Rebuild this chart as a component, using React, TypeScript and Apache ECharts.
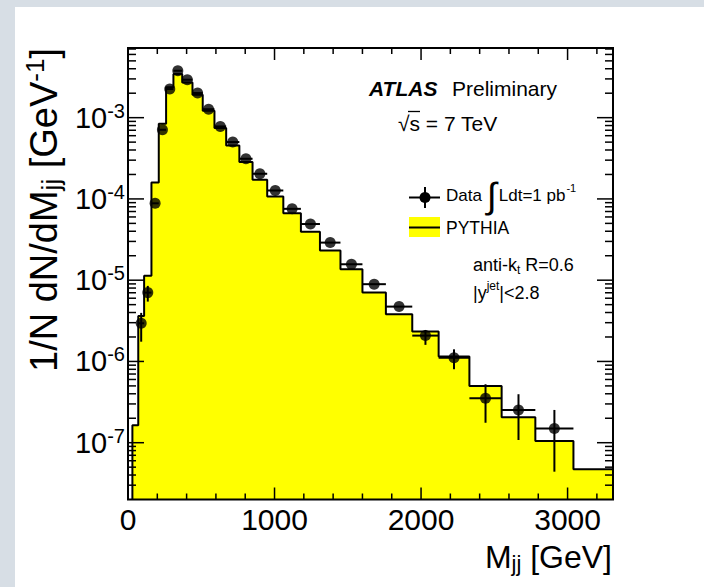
import React, { useEffect, useRef } from "react";
import * as echarts from "echarts";

// ---- Data ----
const binEdges = [30, 70, 110, 160, 210, 260, 310, 370, 440, 510, 590, 670, 760, 850, 950, 1060, 1180, 1310, 1450, 1600, 1760, 1940, 2120, 2330, 2550, 2780, 3040, 3310];
const pythiaValues = [1.64e-7, 3.63e-6, 1.13e-5, 1.59e-4, 8.41e-4, 2.36e-3, 3.44e-3, 2.71e-3, 1.91e-3, 1.22e-3, 7.45e-4, 4.55e-4, 2.84e-4, 1.72e-4, 1.07e-4, 6.68e-5, 3.94e-5, 2.32e-5, 1.36e-5, 7.03e-6, 3.82e-6, 2.33e-6, 1.15e-6, 4.99e-7, 2.06e-7, 1.05e-7, 4.7e-8];
const dataValues = [null, 2.95e-6, 7.03e-6, 8.83e-5, 7.1e-4, 2.25e-3, 3.78e-3, 2.93e-3, 2.01e-3, 1.27e-3, 7.8e-4, 5.01e-4, 3.12e-4, 2.04e-4, 1.27e-4, 7.55e-5, 4.91e-5, 2.9e-5, 1.57e-5, 8.93e-6, 4.73e-6, 2.08e-6, 1.11e-6, 3.52e-7, 2.53e-7, 1.5e-7, null];
const dataErrLow = [null, 1.75e-6, 5.45e-6, null, null, null, null, null, null, null, null, null, null, null, null, null, null, null, null, null, null, 1.6e-6, 8.02e-7, 1.76e-7, 1.08e-7, 4.4e-8, null];
const dataErrHigh = [null, 3.96e-6, 8.51e-6, null, null, null, null, null, null, null, null, null, null, null, null, null, null, null, null, null, null, 2.44e-6, 1.41e-6, 5.24e-7, 3.95e-7, 2.53e-7, null];

const xTickLabels = [0, 1000, 2000, 3000];
const xMajorTicks = [1000, 2000, 3000];
const xMinorTicks = [200, 400, 600, 800, 1200, 1400, 1600, 1800, 2200, 2400, 2600, 2800, 3200];
const yMajorTicks = [1e-7, 1e-6, 1e-5, 1e-4, 1e-3];
const yMinorTicks = [
  3e-8, 4e-8, 5e-8, 6e-8, 7e-8, 8e-8, 9e-8,
  2e-7, 3e-7, 4e-7, 5e-7, 6e-7, 7e-7, 8e-7, 9e-7,
  2e-6, 3e-6, 4e-6, 5e-6, 6e-6, 7e-6, 8e-6, 9e-6,
  2e-5, 3e-5, 4e-5, 5e-5, 6e-5, 7e-5, 8e-5, 9e-5,
  2e-4, 3e-4, 4e-4, 5e-4, 6e-4, 7e-4, 8e-4, 9e-4,
  2e-3, 3e-3, 4e-3, 5e-3, 6e-3, 7e-3,
];

const X_MIN = 0;
const X_MAX = 3310;
const Y_MIN = 2e-8;
const Y_MAX = 7.2e-3;

const FF = '"Liberation Sans", Arial, Helvetica, sans-serif';

export default function App() {
  const ref = useRef<HTMLDivElement>(null);

  useEffect(() => {
    if (!ref.current) return;
    const chart = echarts.init(ref.current, undefined, { renderer: "svg" });

    const histLine: number[][] = [[binEdges[0], Y_MIN]];
    pythiaValues.forEach((v, i) => {
      histLine.push([binEdges[i], v]);
      histLine.push([binEdges[i + 1], v]);
    });

    const errData: number[][] = [];
    const pointData: number[][] = [];
    dataValues.forEach((v, i) => {
      if (v == null) return;
      const c = (binEdges[i] + binEdges[i + 1]) / 2;
      errData.push([c, v, binEdges[i], binEdges[i + 1], dataErrLow[i] ?? 0, dataErrHigh[i] ?? 0]);
      pointData.push([c, v]);
    });

    const option: any = {
      animation: false,
      backgroundColor: "#ffffff",
      grid: { left: 128, right: 91, top: 48, bottom: 87.5, show: false },
      xAxis: {
        type: "value",
        min: X_MIN,
        max: X_MAX,
        interval: 1000,
        axisLine: { show: false },
        axisTick: { show: false },
        splitLine: { show: false },
        axisLabel: {
          formatter: (v: number) => (xTickLabels.indexOf(v) >= 0 ? String(v) : ""),
          fontSize: 30,
          color: "#000",
          fontFamily: FF,
          margin: 5,
        },
      },
      yAxis: {
        type: "log",
        logBase: 10,
        min: Y_MIN,
        max: Y_MAX,
        axisLine: { show: false },
        axisTick: { show: false },
        splitLine: { show: false },
        axisLabel: {
          margin: 3,
          formatter: (v: number) => {
            const l = Math.log10(v);
            const r = Math.round(l);
            if (Math.abs(l - r) > 1e-6) return "";
            return `{b|10}{e|${r}}`;
          },
          rich: {
            b: { fontSize: 29, fontFamily: FF, color: "#000" },
            e: { fontSize: 20, fontFamily: FF, color: "#000", padding: [0, 0, 14, 0] },
          },
        },
      },
      graphic: [
        { type: "rect", shape: { x: 0, y: 0, width: 704, height: 7 }, style: { fill: "#d7dee5" } },
        { type: "rect", shape: { x: 0, y: 0, width: 15, height: 587 }, style: { fill: "#d7dee5" } },
        {
          type: "text",
          x: 44,
          y: 48,
          rotation: Math.PI / 2,
          style: {
            text: "{t|1/N dN/dM}{s|jj}{t| [GeV}{p|-1}{t|]}",
            align: "right",
            verticalAlign: "middle",
            rich: {
              t: { fontSize: 38, fontFamily: FF, fill: "#000" },
              s: { fontSize: 26, fontFamily: FF, fill: "#000", padding: [14, 0, 0, 0] },
              p: { fontSize: 26, fontFamily: FF, fill: "#000", padding: [0, 0, 18, 0] },
            },
          },
        },
        {
          type: "text",
          x: 612,
          y: 557,
          style: {
            text: "{t|M}{s|jj}{t| [GeV]}",
            align: "right",
            verticalAlign: "middle",
            rich: {
              t: { fontSize: 32, fontFamily: FF, fill: "#000" },
              s: { fontSize: 22, fontFamily: FF, fill: "#000", padding: [12, 0, 0, 0] },
            },
          },
        },
        {
          type: "text",
          x: 369,
          y: 88,
          style: { text: "ATLAS", fontSize: 21, fontFamily: FF, fontWeight: "bold", fontStyle: "italic", fill: "#000", verticalAlign: "middle" },
        },
        {
          type: "text",
          x: 452,
          y: 88,
          style: { text: "Preliminary", fontSize: 21, fontFamily: FF, fill: "#000", verticalAlign: "middle" },
        },
        {
          type: "text",
          x: 398,
          y: 123,
          style: { text: "\u221As = 7 TeV", fontSize: 21, fontFamily: FF, fill: "#000", verticalAlign: "middle" },
        },
        { type: "line", shape: { x1: 408, y1: 111.5, x2: 420, y2: 111.5 }, style: { stroke: "#000", lineWidth: 1.3 } },
        // legend: Data
        { type: "line", shape: { x1: 409, y1: 197.5, x2: 440, y2: 197.5 }, style: { stroke: "#000", lineWidth: 2 } },
        { type: "line", shape: { x1: 425, y1: 187, x2: 425, y2: 208 }, style: { stroke: "#000", lineWidth: 2 } },
        { type: "circle", shape: { cx: 425, cy: 197.5, r: 5.5 }, style: { fill: "#000" } },
        {
          type: "text",
          x: 446,
          y: 195,
          style: {
            text: "{t|Data}{i|\u222B}{t|Ldt=1 pb}{p|-1}",
            verticalAlign: "middle",
            rich: {
              t: { fontSize: 17, fontFamily: FF, fill: "#000" },
              i: { fontSize: 36, fontFamily: FF, fill: "#000", padding: [0, 2, 0, 5] },
              p: { fontSize: 11, fontFamily: FF, fill: "#000", padding: [0, 0, 14, 1] },
            },
          },
        },
        // legend: PYTHIA
        { type: "rect", shape: { x: 409, y: 217, width: 31, height: 20 }, style: { fill: "#ffff00" } },
        { type: "line", shape: { x1: 409, y1: 227.5, x2: 440, y2: 227.5 }, style: { stroke: "#000", lineWidth: 2 } },
        {
          type: "text",
          x: 446,
          y: 228,
          style: { text: "PYTHIA", fontSize: 17.5, fontFamily: FF, fill: "#000", verticalAlign: "middle" },
        },
        {
          type: "text",
          x: 473,
          y: 265,
          style: {
            text: "{t|anti-k}{s|t}{t| R=0.6}",
            verticalAlign: "middle",
            rich: {
              t: { fontSize: 18, fontFamily: FF, fill: "#000" },
              s: { fontSize: 12, fontFamily: FF, fill: "#000", padding: [10, 0, 0, 0] },
            },
          },
        },
        {
          type: "text",
          x: 473,
          y: 293,
          style: {
            text: "{t||y}{p|jet}{t||<2.8}",
            verticalAlign: "middle",
            rich: {
              t: { fontSize: 18, fontFamily: FF, fill: "#000" },
              p: { fontSize: 12, fontFamily: FF, fill: "#000", padding: [0, 0, 14, 0] },
            },
          },
        },
      ],
      series: [
        {
          name: "PYTHIA",
          type: "line",
          data: histLine,
          symbol: "none",
          showSymbol: false,
          lineStyle: { color: "#000", width: 2 },
          areaStyle: { color: "#ffff00", opacity: 1, origin: "start" },
          z: 2,
          silent: true,
        },
        {
          name: "DataErrors",
          type: "custom",
          data: errData,
          encode: { x: 0, y: 1 },
          z: 3,
          silent: true,
          renderItem: (params: any, api: any) => {
            const c = api.coord([api.value(0), api.value(1)]);
            const l = api.coord([api.value(2), api.value(1)]);
            const r = api.coord([api.value(3), api.value(1)]);
            const children: any[] = [
              { type: "line", shape: { x1: l[0], y1: c[1], x2: r[0], y2: c[1] }, style: { stroke: "#000", lineWidth: 2 } },
            ];
            const lo = api.value(4);
            const hi = api.value(5);
            if (lo > 0 && hi > 0) {
              const pl = api.coord([api.value(0), lo]);
              const ph = api.coord([api.value(0), hi]);
              children.push({ type: "line", shape: { x1: c[0], y1: ph[1], x2: c[0], y2: pl[1] }, style: { stroke: "#000", lineWidth: 2 } });
            }
            return { type: "group", children };
          },
        },
        {
          name: "Data",
          type: "scatter",
          data: pointData,
          symbol: "circle",
          symbolSize: 11,
          itemStyle: { color: "#000" },
          z: 4,
          silent: true,
        },
        {
          name: "Frame",
          type: "custom",
          data: [[X_MIN, Y_MIN]],
          encode: { x: 0, y: 1 },
          z: 10,
          silent: true,
          renderItem: (params: any, api: any) => {
            const bl = api.coord([X_MIN, Y_MIN]);
            const tr = api.coord([X_MAX, Y_MAX]);
            const x0 = bl[0], y0 = bl[1], x1 = tr[0], y1 = tr[1];
            const st = { stroke: "#000", lineWidth: 1.5 };
            const children: any[] = [
              { type: "rect", shape: { x: x0, y: y1, width: x1 - x0, height: y0 - y1 }, style: { fill: "none", stroke: "#000", lineWidth: 2 } },
            ];
            const addX = (v: number, len: number) => {
              const p = api.coord([v, Y_MIN]);
              children.push({ type: "line", shape: { x1: p[0], y1: y0, x2: p[0], y2: y0 - len }, style: st });
              children.push({ type: "line", shape: { x1: p[0], y1: y1, x2: p[0], y2: y1 + len }, style: st });
            };
            const addY = (v: number, len: number) => {
              const p = api.coord([X_MIN, v]);
              children.push({ type: "line", shape: { x1: x0, y1: p[1], x2: x0 + len, y2: p[1] }, style: st });
              children.push({ type: "line", shape: { x1: x1, y1: p[1], x2: x1 - len, y2: p[1] }, style: st });
            };
            xMajorTicks.forEach((v) => addX(v, 12));
            xMinorTicks.forEach((v) => addX(v, 6));
            yMajorTicks.forEach((v) => addY(v, 16));
            yMinorTicks.forEach((v) => addY(v, 8));
            return { type: "group", children };
          },
        },
      ],
    };

    chart.setOption(option);
    return () => chart.dispose();
  }, []);

  return (
    <div
      ref={ref}
      style={{ position: "fixed", left: 0, top: 0, width: 704, height: 587 }}
    />
  );
}
